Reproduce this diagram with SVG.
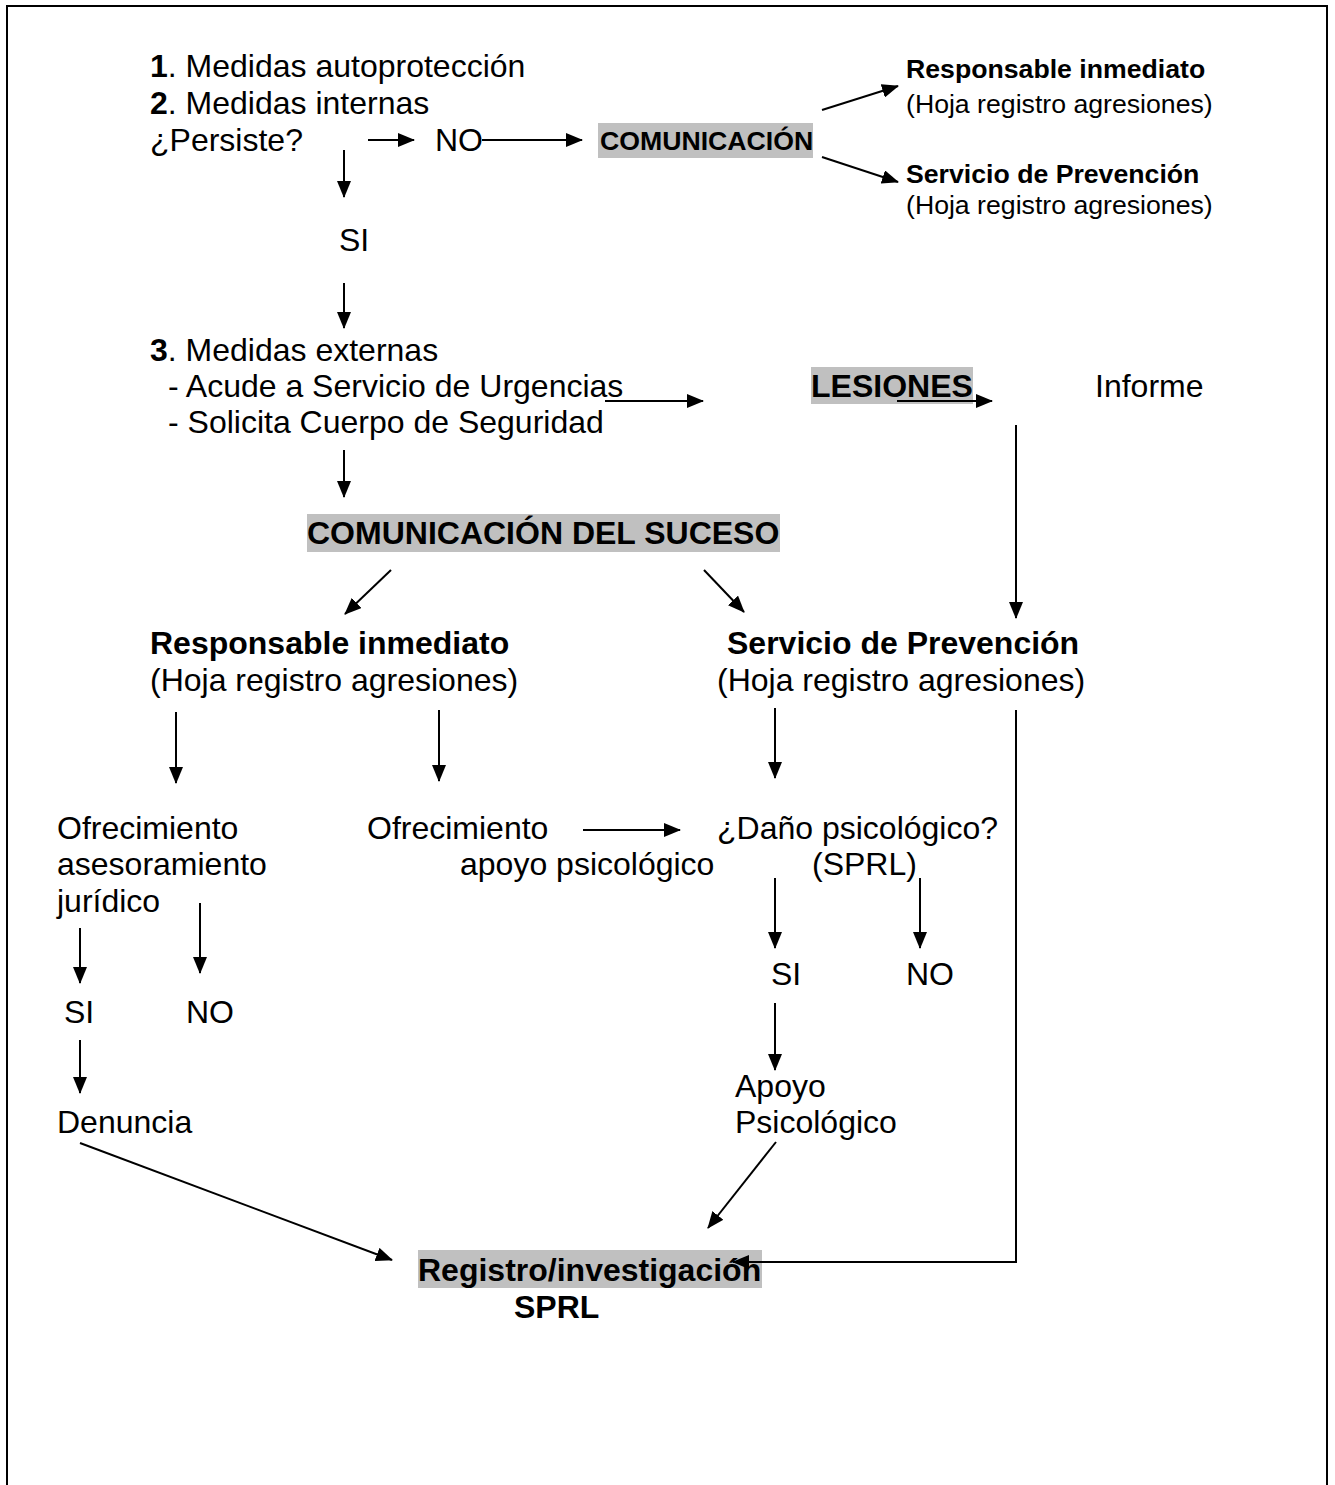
<svg xmlns="http://www.w3.org/2000/svg" width="1335" height="1485" viewBox="0 0 1335 1485">
<style>
text{font-family:"Liberation Sans",Arial,sans-serif;fill:#000}
.n{font-size:32px}
.s{font-size:26.67px}
.b{font-weight:bold}
.hl{fill:#c0c0c0}
.c{stroke:#000;stroke-width:2;fill:none;marker-end:url(#ah)}
</style>
<defs>
<marker id="ah" markerUnits="userSpaceOnUse" markerWidth="17" markerHeight="14" refX="16" refY="7" orient="auto">
<path d="M0,0 L17,7 L0,14 z" fill="#000"/>
</marker>
</defs>
<rect width="1335" height="1485" fill="#fff"/>
<path d="M7,1485 L7,6 L1327,6 L1327,1485" fill="none" stroke="#000" stroke-width="2"/>

<g id="paso12">
<text class="n" x="150" y="77"><tspan class="b">1</tspan>. Medidas autoprotección</text>
<text class="n" x="150" y="114"><tspan class="b">2</tspan>. Medidas internas</text>
<text class="n" x="150" y="151">¿Persiste?</text>
</g>
<g id="no1"><text class="n" x="435" y="151">NO</text></g>
<g id="comunicacion">
<rect class="hl" x="598" y="123" width="215" height="35"/>
<text class="s b" x="600" y="150">COMUNICACIÓN</text>
</g>
<g id="resp1">
<text class="s b" x="906" y="78">Responsable inmediato</text>
<text class="s" x="906" y="113">(Hoja registro agresiones)</text>
</g>
<g id="serv1">
<text class="s b" x="906" y="183">Servicio de Prevención</text>
<text class="s" x="906" y="214">(Hoja registro agresiones)</text>
</g>
<g id="si1"><text class="n" x="339" y="251">SI</text></g>
<g id="paso3">
<text class="n" x="150" y="361"><tspan class="b">3</tspan>. Medidas externas</text>
<text class="n" x="168" y="397">- Acude a Servicio de Urgencias</text>
<text class="n" x="168" y="433">- Solicita Cuerpo de Seguridad</text>
</g>
<g id="lesiones">
<rect class="hl" x="811" y="367" width="162" height="37"/>
<text class="n b" x="811" y="397">LESIONES</text>
</g>
<g id="informe"><text class="n" x="1095" y="397">Informe</text></g>
<g id="suceso">
<rect class="hl" x="307" y="514" width="473" height="38"/>
<text class="n b" x="307" y="544">COMUNICACIÓN DEL SUCESO</text>
</g>
<g id="resp2">
<text class="n b" x="150" y="654">Responsable inmediato</text>
<text class="n" x="150" y="691">(Hoja registro agresiones)</text>
</g>
<g id="serv2">
<text class="n b" x="727" y="654">Servicio de Prevención</text>
<text class="n" x="717" y="691">(Hoja registro agresiones)</text>
</g>
<g id="juridico">
<text class="n" x="57" y="839">Ofrecimiento</text>
<text class="n" x="57" y="875">asesoramiento</text>
<text class="n" x="57" y="912">jurídico</text>
</g>
<g id="apoyo1">
<text class="n" x="367" y="839">Ofrecimiento</text>
<text class="n" x="460" y="875">apoyo psicológico</text>
</g>
<g id="dano">
<text class="n" x="717" y="839">¿Daño psicológico?</text>
<text class="n" x="812" y="875">(SPRL)</text>
</g>
<g id="si2"><text class="n" x="64" y="1023">SI</text></g>
<g id="no2"><text class="n" x="186" y="1023">NO</text></g>
<g id="denuncia"><text class="n" x="57" y="1133">Denuncia</text></g>
<g id="si3"><text class="n" x="771" y="985">SI</text></g>
<g id="no3"><text class="n" x="906" y="985">NO</text></g>
<g id="apoyo2">
<text class="n" x="735" y="1097">Apoyo</text>
<text class="n" x="735" y="1133">Psicológico</text>
</g>
<g id="registro">
<rect class="hl" x="418" y="1250" width="344" height="38"/>
<text class="n b" x="418" y="1281">Registro/investigación</text>
<text class="n b" x="514" y="1318">SPRL</text>
</g>

<g id="connectors">
<line class="c" x1="368" y1="140" x2="414" y2="140"/>
<line class="c" x1="482" y1="140" x2="582" y2="140"/>
<line class="c" x1="822" y1="110" x2="898" y2="86"/>
<line class="c" x1="822" y1="157" x2="898" y2="182"/>
<line class="c" x1="344" y1="150" x2="344" y2="197"/>
<line class="c" x1="344" y1="283" x2="344" y2="328"/>
<line class="c" x1="605" y1="401" x2="703" y2="401"/>
<line class="c" x1="897" y1="401" x2="992" y2="401"/>
<line class="c" x1="1016" y1="425" x2="1016" y2="618"/>
<line class="c" x1="344" y1="450" x2="344" y2="497"/>
<line class="c" x1="391" y1="570" x2="345" y2="614"/>
<line class="c" x1="704" y1="570" x2="744" y2="612"/>
<line class="c" x1="176" y1="712" x2="176" y2="783"/>
<line class="c" x1="439" y1="710" x2="439" y2="781"/>
<line class="c" x1="775" y1="708" x2="775" y2="778"/>
<polyline class="c" points="1016,710 1016,1262 733,1262"/>
<line class="c" x1="583" y1="830" x2="680" y2="830"/>
<line class="c" x1="200" y1="903" x2="200" y2="973"/>
<line class="c" x1="80" y1="928" x2="80" y2="983"/>
<line class="c" x1="775" y1="878" x2="775" y2="948"/>
<line class="c" x1="920" y1="878" x2="920" y2="948"/>
<line class="c" x1="80" y1="1040" x2="80" y2="1093"/>
<line class="c" x1="775" y1="1003" x2="775" y2="1070"/>
<line class="c" x1="80" y1="1143" x2="392" y2="1260"/>
<line class="c" x1="776" y1="1142" x2="708" y2="1228"/>
</g>
</svg>
